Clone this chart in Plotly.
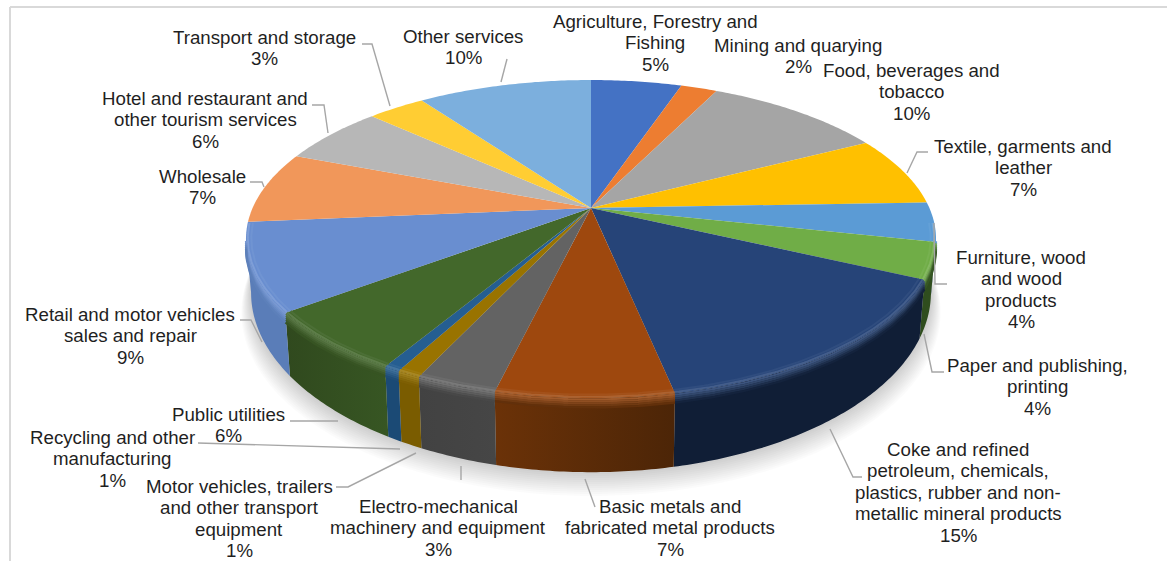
import numpy as np
import plotly.graph_objects as go

# ---------- data ----------
categories = [
    "Agriculture, Forestry and<br>Fishing", "Mining and quarying", "Food, beverages and<br>tobacco",
    "Textile, garments and<br>leather", "Furniture, wood<br>and wood<br>products",
    "Paper and publishing,<br>printing",
    "Coke and refined<br>petroleum, chemicals,<br>plastics, rubber and non-<br>metallic mineral products",
    "Basic metals and<br>fabricated metal products", "Electro-mechanical<br>machinery and equipment",
    "Motor vehicles, trailers<br>and other transport<br>equipment", "Recycling and other<br>manufacturing",
    "Public utilities", "Retail and motor vehicles<br>sales and repair", "Wholesale",
    "Hotel and restaurant and<br>other tourism services", "Transport and storage", "Other services",
]
values = [5, 2, 9.95, 7.05, 4, 3.7, 15, 7.1, 3.25, 0.95, 0.65, 6.35, 9, 7.3, 5.9, 3.2, 9.6]
top_colors = ["#4472c4", "#ed7d31", "#a5a5a5", "#ffc000", "#5b9bd5", "#70ad47", "#264478", "#9e480e",
              "#636363", "#997300", "#255e91", "#43682b", "#698ed0", "#f1975a", "#b7b7b7", "#ffcd33", "#7cafdd"]
side_left = ["#2d4c83", "#9e5320", "#6e6e6e", "#aa8000", "#2f5f92", "#2f4d1e", "#101e36", "#6b3208",
             "#424242", "#7a5c00", "#1b4a75", "#30491e", "#5a7db8", "#a16a3a", "#7a7a7a", "#aa8822", "#5577aa"]
side_right = ["#2d4c83", "#9e5320", "#6e6e6e", "#aa8000", "#2f5f92", "#2f4d1e", "#101e36", "#4c2507",
              "#464646", "#7a5c00", "#1b4a75", "#375623", "#5a7db8", "#a16a3a", "#7a7a7a", "#aa8822", "#5577aa"]
label_x = [655, 798, 911, 1023, 1021, 1037, 958, 670, 438, 239, 112, 228, 130, 202, 205, 264, 463]
label_y = [21, 45, 70, 146, 257, 365, 449, 506, 506, 486, 437, 414, 314, 176, 98, 37, 36]
leaders = [
    [(362, 44), (372, 44), (390, 106)], [(312, 105), (324, 105), (328, 133)],
    [(250, 182), (262, 182), (264, 187)], [(240, 320), (251, 320), (262, 342)],
    [(290, 421), (338, 421)], [(198, 443), (400, 449)], [(336, 487), (348, 487), (416, 453)],
    [(461, 466), (461, 480)], [(585, 479), (595, 507)], [(830, 429), (853, 477), (862, 477)],
    [(924, 334), (932, 372), (944, 372)], [(934, 223), (935, 284), (947, 284)],
    [(907, 173), (917, 152), (928, 152)], [(501, 82), (507, 59)],
]

# ---------- projection of the tilted disc ----------
CX, APEX_Y, C, A = 591, 208, 0.1698, 340
D_TOP, B_TOP = 212, -118.4
A_BOT, D_BOT, B_BOT = 335, 262, -130


def rim(t, r=1.0, dy=0.0):
    u, v = r * np.sin(t), r * np.cos(t)
    w = 1 + C * v
    return CX + A * u / w, (D_TOP + B_TOP * v) / w + dy


def rim_bot(t, grow=0.0, dy=0.0):
    u, v = np.sin(t), np.cos(t)
    w = 1 + C * v
    return CX + (A_BOT + grow) * u / w, (D_BOT + (B_BOT - grow * 0.4) * v) / w + dy


def blend(c1, c2, t):
    a = [int(c1[i:i + 2], 16) for i in (1, 3, 5)]
    b = [int(c2[i:i + 2], 16) for i in (1, 3, 5)]
    return "#%02x%02x%02x" % tuple(round(x + (y - x) * t) for x, y in zip(a, b))


frac = np.cumsum([0] + values) / sum(values) * 2 * np.pi
T_R, T_L = np.pi - np.arccos(C), np.pi + np.arccos(C)

fig = go.Figure()

# soft shadow below the disc
T = np.linspace(T_R - 0.25, T_L + 0.25, 200)
for k in range(12, 0, -1):
    x, y = rim_bot(T, grow=k * 0.8, dy=k * 1.6)
    fig.add_trace(go.Scatter(x=x, y=y, fill="toself", mode="none", fillcolor="rgba(0,0,0,0.016)", hoverinfo="skip"))

# side walls
for i in range(len(values)):
    a0, a1 = max(frac[i], T_R), min(frac[i + 1], T_L)
    if a1 <= a0:
        continue
    t = np.linspace(a0, a1, max(6, int((a1 - a0) * 90)))
    xt, yt = rim(t)
    xb, yb = rim_bot(t[::-1])
    fig.add_trace(go.Scatter(
        x=np.r_[xt, xb], y=np.r_[yt, yb], fill="toself", mode="none", hoverinfo="skip",
        fillgradient=dict(type="horizontal", colorscale=[[0, side_left[i]], [1, side_right[i]]]),
    ))

# top faces
for i in range(len(values)):
    t = np.linspace(frac[i], frac[i + 1], max(6, int((frac[i + 1] - frac[i]) * 90)))
    x, y = rim(t)
    fig.add_trace(go.Scatter(x=np.r_[CX, x, CX], y=np.r_[APEX_Y, y, APEX_Y], fill="toself", mode="none",
                             fillcolor=top_colors[i], hoverinfo="skip"))

# soft bevel along the visible rim
for i in range(len(values)):
    a0, a1 = max(frac[i], T_R - 0.1), min(frac[i + 1], T_L + 0.1)
    if a1 <= a0:
        continue
    t = np.linspace(a0, a1, max(6, int((a1 - a0) * 90)))
    side_mid = blend(side_left[i], side_right[i], 0.5)
    light = blend(top_colors[i], "#ffffff", 0.14)
    for r, s in ((0.985, 0.35), (0.995, 1.0)):
        x, y = rim(t, r=r)
        fig.add_trace(go.Scatter(x=x, y=y, mode="lines", line=dict(color=blend(top_colors[i], light, s), width=2),
                                 hoverinfo="skip"))
    ts = t[(t >= T_R) & (t <= T_L)]
    if len(ts) > 1:
        for d, s in ((1.5, 0.15), (3.5, 0.35), (5.5, 0.55), (7.5, 0.75), (9.5, 0.92)):
            x, y = rim(ts, dy=d)
            fig.add_trace(go.Scatter(x=x, y=y, mode="lines", line=dict(color=blend(light, side_mid, s), width=2.2),
                                     hoverinfo="skip"))

# leader lines
for pts in leaders:
    fig.add_trace(go.Scatter(x=[p[0] for p in pts], y=[p[1] for p in pts], mode="lines",
                             line=dict(color="#a6a6a6", width=1.4), hoverinfo="skip"))

# labels, one annotation per text line so the tight line pitch can be kept
LINE = 21.6
for name, val, lx, ly in zip(categories, values, label_x, label_y):
    for n, line in enumerate(name.split("<br>") + [f"{round(val)}%"]):
        fig.add_annotation(x=lx, y=ly + n * LINE, xref="x", yref="y", text=line, showarrow=False,
                           xanchor="center", yanchor="middle", align="center", borderpad=0,
                           font=dict(family="Liberation Sans", size=18.7, color="#1f1f1f"))

fig.update_layout(
    width=1167, height=561, margin=dict(l=0, r=0, t=0, b=0), showlegend=False,
    paper_bgcolor="white", plot_bgcolor="white",
    xaxis=dict(range=[0, 1167], visible=False, fixedrange=True),
    yaxis=dict(range=[561, 0], visible=False, fixedrange=True),
    shapes=[
        dict(type="line", xref="x", yref="y", x0=10, x1=10, y0=7, y1=561, line=dict(color="#d9d9d9", width=2)),
        dict(type="line", xref="x", yref="y", x0=10, x1=1167, y0=7, y1=7, line=dict(color="#d9d9d9", width=2)),
    ],
)
fig.write_html("out.html", post_script="document.body.style.margin='0';", config={"displayModeBar": False})
